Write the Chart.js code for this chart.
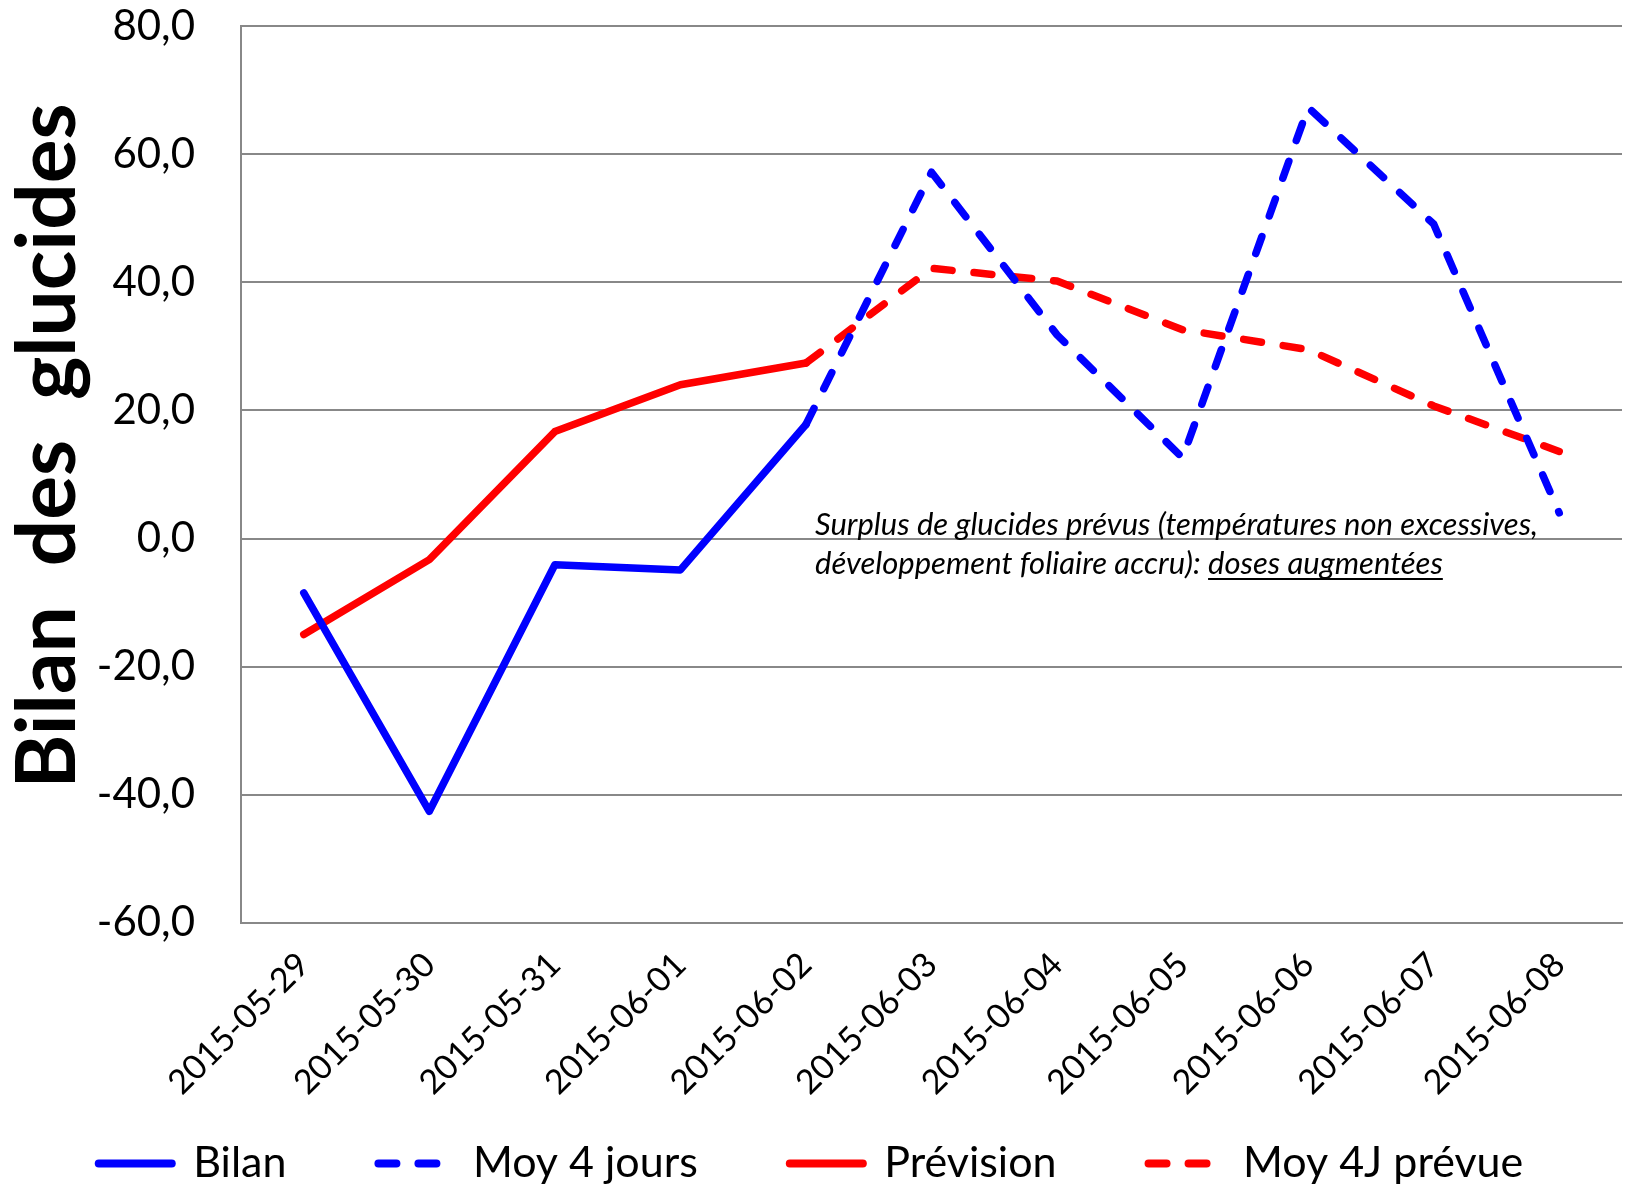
<!DOCTYPE html>
<html>
<head>
<meta charset="utf-8">
<script src="https://cdn.jsdelivr.net/npm/chart.js@4.4.1/dist/chart.umd.min.js"></script>
<style>
  html, body { margin: 0; padding: 0; background: #fff; }
  #wrap { width: 1635px; height: 1187px; }
</style>
</head>
<body>
<div id="wrap"><canvas id="myChart" width="1635" height="1187"></canvas></div>
<script>
const dates = ['2015-05-29', '2015-05-30', '2015-05-31', '2015-06-01', '2015-06-02', '2015-06-03',
  '2015-06-04', '2015-06-05', '2015-06-06', '2015-06-07', '2015-06-08'];
const bilan = [-8.5, -42.6, -4.1, -4.9, 17.8, null, null, null, null, null, null];
const moy4jours = [null, null, null, null, 17.8, 57.2, 31.8, 12.6, 67.3, 49.1, 4.0];
const prevision = [-15.0, -3.3, 16.7, 24.0, 27.4, null, null, null, null, null, null];
const moy4jPrevue = [null, null, null, null, 27.4, 42.2, 40.2, 32.6, 29.5, 20.7, 13.6];
const yTicks = [-60, -40, -20, 0, 20, 40, 60, 80];
const yTitle = 'Bilan  des  glucides';
const noteLine1 = 'Surplus de glucides prévus (températures non excessives,';
const noteLine2 = 'développement foliaire accru): ';
const noteUnder = 'doses augmentées';

const gris = '#888888';
const dash = [18, 22];

function serie(label, data, color, dashed) {
    return {
        label: label,
        data: data,
        borderColor: color,
        backgroundColor: color,
        borderWidth: 7.5,
        borderDash: dashed ? dash : [],
        borderCapStyle: 'round',
        borderJoinStyle: 'round',
        pointRadius: 0,
        pointHoverRadius: 0,
        pointStyle: 'line',
        tension: 0,
        spanGaps: false
    };
}

// note en italique + titre vertical de l'axe
const textesPlugin = {
    id: 'textes',
    afterDatasetsDraw(chart) {
        const ctx = chart.ctx;
        ctx.save();
        ctx.font = 'italic 31px Lato';
        ctx.fillStyle = '#000';
        ctx.textBaseline = 'middle';
        ctx.textAlign = 'left';
        const x = 815;
        ctx.fillText(noteLine1, x, 525);
        ctx.fillText(noteLine2, x, 564);
        const w2 = ctx.measureText(noteLine2).width;
        ctx.fillText(noteUnder, x + w2, 564);
        const wu = ctx.measureText(noteUnder).width;
        ctx.strokeStyle = '#000';
        ctx.lineWidth = 2;
        ctx.beginPath();
        ctx.moveTo(x + w2, 579);
        ctx.lineTo(x + w2 + wu, 579);
        ctx.stroke();

        ctx.translate(49, 446);
        ctx.rotate(-Math.PI / 2);
        ctx.font = 'bold 82px Lato';
        ctx.textAlign = 'center';
        ctx.fillText(yTitle, 0, 0);
        ctx.restore();
    }
};

const ctx = document.getElementById('myChart').getContext('2d');
const myChart = new Chart(ctx, {
    type: 'line',
    data: {
        labels: dates,
        datasets: [
            serie('Bilan', bilan, '#0000FF', false),
            serie('Moy 4 jours', moy4jours, '#0000FF', true),
            serie('Prévision', prevision, '#FF0000', false),
            serie('Moy 4J prévue', moy4jPrevue, '#FF0000', true)
        ]
    },
    plugins: [textesPlugin],
    options: {
        responsive: false,
        animation: false,
        layout: { padding: { left: 0, right: 13, top: 0, bottom: -8 } },
        plugins: {
            tooltip: { enabled: false },
            legend: {
                position: 'bottom',
                title: { display: true, text: '', font: { size: 10 }, padding: { top: -87, bottom: 0 } },
                labels: {
                    usePointStyle: true,
                    pointStyleWidth: 73,
                    boxHeight: 43,
                    padding: 92,
                    color: '#000',
                    font: { family: 'Lato', size: 43 },
                    generateLabels(chart) {
                        const items = Chart.defaults.plugins.legend.labels.generateLabels(chart);
                        items.forEach(it => {
                            const ds = chart.data.datasets[it.datasetIndex];
                            it.lineDash = ds.borderDash;
                            it.lineCap = 'round';
                            it.lineWidth = 8;
                            it.strokeStyle = ds.borderColor;
                            it.pointStyle = 'line';
                        });
                        return items;
                    }
                }
            }
        },
        scales: {
            x: {
                offset: true,
                grid: { display: false, drawTicks: false },
                border: { display: true, color: gris, width: 2 },
                ticks: {
                    color: '#000',
                    font: { family: 'Lato', size: 34 },
                    minRotation: 45,
                    maxRotation: 45,
                    padding: 22,
                    autoSkip: false
                }
            },
            y: {
                min: -60,
                max: 80,
                afterBuildTicks(scale) { scale.ticks = yTicks.map(v => ({ value: v })); },
                grid: { color: gris, lineWidth: 2, drawTicks: true, tickLength: 45, tickColor: 'rgba(0,0,0,0)' },
                border: { display: true, color: gris, width: 2 },
                ticks: {
                    color: '#000',
                    font: { family: 'Lato', size: 42 },
                    padding: 1,
                    callback: function (value) {
                        return value.toFixed(1).replace('.', ',');
                    }
                },
                afterFit(scale) { scale.width = 241; }
            }
        }
    }
});
</script>
</body>
</html>
